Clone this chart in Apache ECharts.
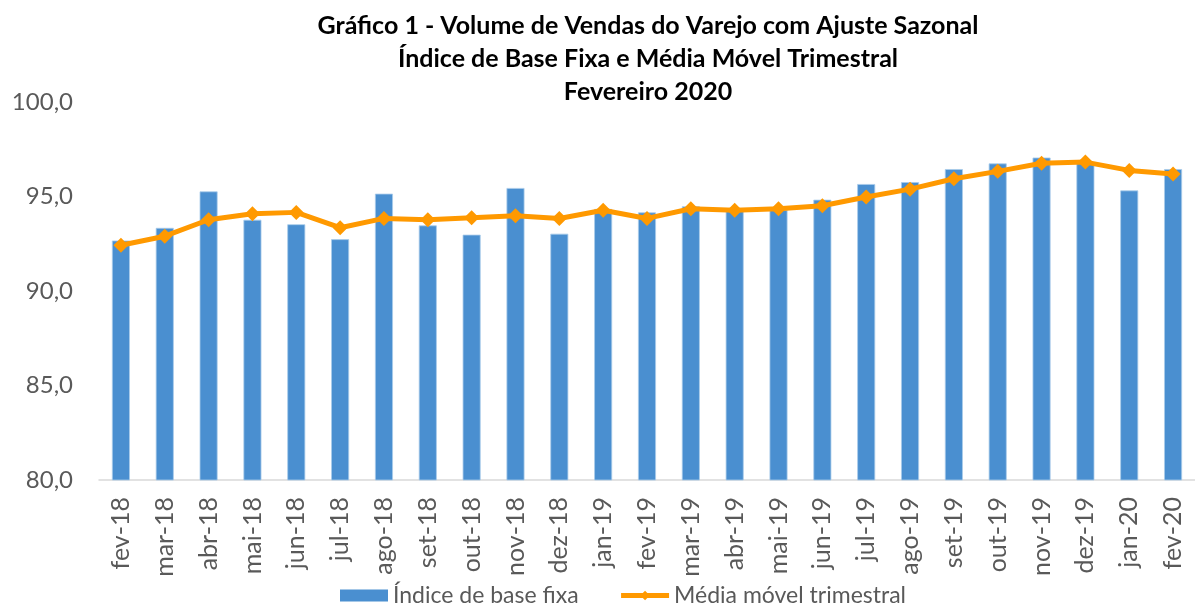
<!DOCTYPE html>
<html>
<head>
<meta charset="utf-8">
<script src="https://cdn.jsdelivr.net/npm/echarts@6/dist/echarts.min.js"></script>
<style>html,body{margin:0;padding:0;background:#fff;}#c{width:1195px;height:604px;}</style>
</head>
<body>
<div id="c"></div>
<script>
const categories = ['fev-18','mar-18','abr-18','mai-18','jun-18','jul-18','ago-18','set-18','out-18','nov-18','dez-18','jan-19','fev-19','mar-19','abr-19','mai-19','jun-19','jul-19','ago-19','set-19','out-19','nov-19','dez-19','jan-20','fev-20'];
const indiceBaseFixa = [92.67,93.34,95.27,93.77,93.53,92.74,95.15,93.47,92.98,95.45,93.03,94.34,94.16,94.48,94.30,94.30,94.83,95.66,95.76,96.45,96.75,97.06,96.80,95.32,96.45];
const mediaMovel = [92.42,92.90,93.77,94.09,94.16,93.35,93.84,93.77,93.88,93.98,93.84,94.27,93.84,94.35,94.27,94.35,94.51,94.97,95.39,95.94,96.33,96.76,96.82,96.38,96.19];
const yTicks = {min: 80, max: 100, interval: 5};
const titleLines = ['Gráfico 1 - Volume de Vendas do Varejo com Ajuste Sazonal','Índice de Base Fixa e Média Móvel Trimestral','Fevereiro 2020'];
const seriesNames = ['Índice de base fixa','Média móvel trimestral'];

const chart = echarts.init(document.getElementById('c'));
const FONT = 'Lato';
chart.setOption({
  animation: false,
  backgroundColor: '#fff',
  title: {
    text: titleLines.join('\n'),
    left: 643, top: 4, textAlign: 'center',
    textStyle: {fontFamily: FONT, fontWeight: 'bold', fontSize: 25, lineHeight: 33, color: '#000'}
  },
  legend: {
    top: 579, left: 335,
    itemGap: 40, itemWidth: 48, itemHeight: 12,
    textStyle: {fontFamily: FONT, fontSize: 23, color: '#595959'},
    data: [
      {name: seriesNames[0], icon: 'rect', itemStyle: {color: '#4A8FD0', borderWidth: 0}},
      {name: seriesNames[1], lineStyle: {width: 5, color: '#FF9900'}, itemStyle: {color: '#FF9900'}}
    ]
  },
  grid: {left: 99, top: 102, width: 1110, height: 378, containLabel: false},
  xAxis: {
    type: 'category', data: categories,
    axisLine: {lineStyle: {color: '#D9D9D9', width: 1.5}},
    axisTick: {show: false},
    axisLabel: {rotate: 90, interval: 0, margin: 17, fontFamily: FONT, fontSize: 25, color: '#595959'}
  },
  yAxis: {
    type: 'value', min: yTicks.min, max: yTicks.max, interval: yTicks.interval,
    axisLine: {show: false}, axisTick: {show: false}, splitLine: {show: false},
    axisLabel: {margin: 26, fontFamily: FONT, fontSize: 24, color: '#595959',
      formatter: v => v.toFixed(1).replace('.', ',')}
  },
  series: [
    {name: seriesNames[0], type: 'bar', data: indiceBaseFixa, barWidth: 18,
     itemStyle: {color: '#4A8FD0', borderColor: '#A9CBEA', borderWidth: 0.8}},
    {name: seriesNames[1], type: 'line', data: mediaMovel,
     symbol: 'diamond', symbolSize: 15,
     lineStyle: {color: '#FF9900', width: 5},
     itemStyle: {color: '#FF9900'}}
  ]
});
</script>
</body>
</html>
